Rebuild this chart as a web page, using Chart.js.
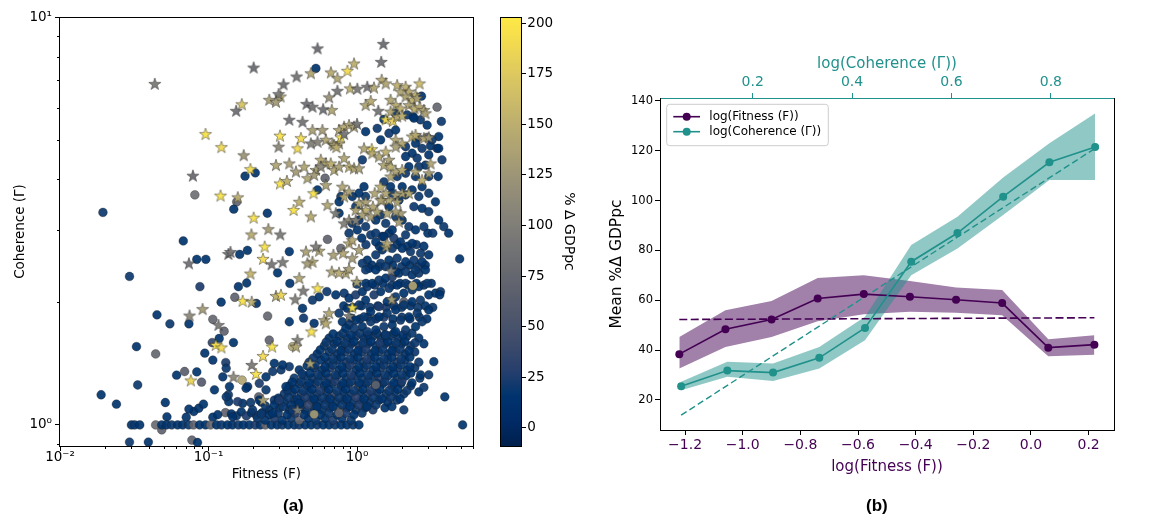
<!DOCTYPE html>
<html><head><meta charset="utf-8">
<script src="https://cdn.jsdelivr.net/npm/chart.js@4.4.1/dist/chart.umd.min.js"></script>
<style>
html,body{margin:0;padding:0;background:#fff;width:1149px;height:514px;overflow:hidden;}
canvas{position:absolute;top:0;}
#c1{left:0} #c2{left:480px} #c3{left:600px}
.lab{position:absolute;font-family:"Liberation Sans",Arial,sans-serif;font-weight:bold;font-size:17px;line-height:17px;color:#000;}
</style></head><body>
<canvas id="c1" width="480" height="514"></canvas>
<canvas id="c2" width="120" height="514"></canvas>
<canvas id="c3" width="549" height="514"></canvas>
<div class="lab" style="left:283px;top:497px">(a)</div>
<div class="lab" style="left:866px;top:497px">(b)</div>
<script>
// ================= DATA: panel (a) =================
// each record: [log10 Fitness (F), log10 Coherence (Γ), % Δ GDPpc]
const starPoints = [
[-1.362,0.836,95],[-0.696,0.876,80],[-0.776,0.786,170],[-0.814,0.770,85],[-1.020,0.713,195],[-0.913,0.681,190],[-0.763,0.661,125],[-0.718,0.627,190],[-1.105,0.611,80],[-0.919,0.562,195],[-0.803,0.558,150],[-0.696,0.508,195],[-0.711,0.467,145],[-0.597,0.480,130],[-0.866,0.419,85],[-0.852,0.424,90],[-0.622,0.437,195],[-0.633,0.407,190],[-1.132,0.396,85],[-0.718,0.371,155],[-0.770,0.304,195],[-0.709,0.302,150],[-1.040,0.284,130],[-1.128,0.268,110],[-0.933,0.245,95],[-0.951,0.196,195],[-0.913,0.190,190],[-0.633,0.169,190],[-1.119,0.109,185],[-0.832,0.118,110],[-0.709,0.147,95],[-0.680,0.125,195],
[-0.266,0.923,80],[0.177,0.934,80],[0.163,0.890,85],[-0.020,0.886,150],[-0.065,0.868,190],[-0.311,0.862,140],[-0.407,0.854,90],[-0.176,0.864,145],[-0.132,0.850,140],[-0.495,0.835,85],[-0.515,0.805,150],[-0.528,0.811,95],[-0.591,0.797,135],[-0.546,0.792,130],[-0.132,0.819,90],[-0.047,0.825,150],[0.002,0.824,95],[0.069,0.829,90],[0.114,0.827,140],[0.166,0.846,145],[0.193,0.837,140],[0.270,0.833,150],[0.327,0.829,150],[0.421,0.837,160],[0.349,0.817,145],[0.394,0.809,150],[0.293,0.817,140],[-0.188,0.803,120],[-0.170,0.772,140],[-0.228,0.774,85],[-0.340,0.787,85],[-0.300,0.780,90],[0.058,0.784,140],[0.092,0.794,145],[0.143,0.770,90],[0.226,0.797,140],[0.260,0.784,145],[0.293,0.776,150],[0.327,0.805,140],[0.371,0.797,150],[0.405,0.801,135],[0.349,0.784,140],[0.387,0.776,150],[0.421,0.779,145],[0.450,0.772,140],[0.461,0.764,135],
[-0.456,0.748,85],[-0.367,0.743,90],[-0.300,0.723,135],[-0.233,0.723,130],[-0.121,0.723,140],[-0.087,0.731,145],[-0.054,0.735,140],[-0.020,0.731,135],[0.000,0.738,90],[0.193,0.749,190],[0.242,0.745,180],[0.226,0.768,140],[0.270,0.756,145],[0.304,0.758,150],
[-0.519,0.709,195],[-0.401,0.678,190],[-0.378,0.703,190],[-0.528,0.682,110],[-0.311,0.690,100],[-0.266,0.694,105],[-0.210,0.699,140],[-0.166,0.690,135],[-0.121,0.690,140],[-0.154,0.686,130],[-0.139,0.681,150],[-0.109,0.705,195],[-0.087,0.713,90],
[0.260,0.699,140],[0.304,0.690,145],[0.260,0.682,135],[0.371,0.707,150],[0.394,0.711,145],[0.450,0.703,140],[0.483,0.705,130],[0.099,0.676,190],[0.047,0.678,140],[0.103,0.666,145],[0.148,0.658,140],[0.193,0.670,150],[0.215,0.650,135],[0.181,0.637,140],[0.226,0.633,150],[0.260,0.621,140],
[-0.546,0.637,140],[-0.456,0.641,135],[-0.411,0.621,130],[-0.356,0.633,140],[-0.277,0.625,135],[-0.244,0.650,145],[-0.210,0.641,140],[-0.177,0.641,150],[-0.244,0.633,110],[-0.154,0.625,140],[-0.121,0.633,135],[-0.087,0.654,140],[-0.054,0.633,150],[-0.020,0.629,140],[0.013,0.629,135],[-0.334,0.605,140],[-0.289,0.613,130],[-0.519,0.592,195],[-0.472,0.598,150],[-0.293,0.568,195],[-0.427,0.527,195],[-0.389,0.547,150],[-0.311,0.511,145],[-0.199,0.539,140],[-0.210,0.588,135],[-0.099,0.584,140],[-0.054,0.572,135],[-0.087,0.560,145],[0.013,0.543,140],[0.058,0.547,135],[-0.009,0.527,140],[0.058,0.527,150],[0.107,0.535,140],[0.036,0.515,135],[0.092,0.511,130],[0.136,0.523,140],[0.170,0.551,145],[-0.143,0.519,100],[-0.054,0.502,110],[-0.087,0.494,100],[-0.009,0.502,105],
[0.226,0.609,140],[0.304,0.625,145],[0.394,0.621,140],[0.438,0.600,150],[0.495,0.641,140],[0.483,0.617,135],[0.304,0.568,140],[0.349,0.568,145],[0.260,0.564,135],[0.270,0.547,140],[0.293,0.519,130],[0.260,0.523,135],[0.215,0.551,140],[0.159,0.584,150],[0.193,0.568,140],[0.119,0.568,140],[0.159,0.551,135],[0.203,0.519,140],[0.282,0.498,135],[0.193,0.437,140],[-0.076,0.372,140],
[-0.575,0.394,90],[-0.501,0.399,95],[-0.344,0.425,135],[-0.300,0.400,140],[-0.334,0.396,130],[-0.255,0.427,140],[-0.159,0.417,135],[-0.094,0.421,140],[-0.054,0.445,145],[-0.032,0.453,140],[0.013,0.429,135],[-0.032,0.409,130],[-0.277,0.437,95],[0.203,0.445,140],[0.230,0.378,100],[-0.389,0.360,140],[-0.362,0.329,95],[-0.266,0.335,195],[-0.416,0.308,100],[-0.546,0.316,150],[-0.512,0.319,185],[-0.170,0.376,140],[-0.121,0.373,145],[-0.054,0.382,135],[-0.002,0.351,140],[-0.188,0.274,140],[-0.221,0.257,135],[-0.210,0.249,145],[-0.032,0.288,195],[-0.054,0.267,100],[0.233,0.308,135],[-0.401,0.208,100],[-0.411,0.192,140],[-0.307,0.229,195],[-0.572,0.192,195],[-0.315,0.151,140],[-0.633,0.061,140],[-0.401,0.037,100],[-0.517,0.467,95]
];
const circlePoints = [
[-1.711,0.521,20],[-0.754,0.610,15],[-0.685,0.618,15],[-1.092,0.564,85],[-0.810,0.547,70],[-0.830,0.529,15],[-0.604,0.519,15],[-1.170,0.451,15],[-1.079,0.406,15],[-1.532,0.364,20],[-1.058,0.339,25],[-0.915,0.301,15],[-1.347,0.270,15],[-1.260,0.248,20],[-1.132,0.248,15],[-1.485,0.192,15],[-1.356,0.174,75],[-1.477,0.098,20],[-1.723,0.074,15],[-1.620,0.051,15],[-1.215,0.122,15],[-1.161,0.131,65],[-1.079,0.130,15],[-1.291,0.055,15],[-1.280,0.020,15],[-1.532,-0.042,20],[-1.405,-0.042,15],[-1.315,-0.012,70],[-1.112,-0.037,70],[-1.074,-0.043,15],[-0.975,0.202,35],[-0.971,0.259,75],[-0.790,0.418,15],[-0.738,0.428,15],[-1.018,0.406,15],[-0.743,0.348,15],[-0.799,0.339,15],[-0.823,0.313,70],[-0.678,0.298,15],[-0.895,0.230,70],[-0.928,0.212,15],[-0.832,0.202,15],[-1.025,0.176,15],[-0.971,0.159,15],[-0.884,0.153,25],[-1.047,0.105,60],[-0.904,0.118,15],[-0.881,0.139,20],[-0.774,0.110,140],[-0.859,0.094,15],[-0.736,0.094,15],[-0.960,0.086,15],[-0.866,0.074,20],[-0.864,0.057,15],[-0.770,0.053,15],[-0.716,0.055,20],[-0.662,0.069,65],[-1.099,0.033,15],[-1.065,0.041,15],[-1.034,0.051,15],[-1.132,0.039,15],[-1.150,0.019,15],[-0.971,0.019,15],[-0.886,0.030,70],
[-0.846,0.027,15],[-0.812,0.022,20],[-0.779,0.032,15],[-0.745,0.022,25],[-0.711,0.030,15],[-0.678,0.024,20],[-0.638,0.030,15],
[-1.519,0,15],[-1.497,0,20],[-1.463,0,15],[-1.356,0,80],[-1.315,0,15],[-1.282,0,15],[-1.248,0,20],[-1.208,0,15],[-1.174,0,15],[-1.134,0,20],[-1.101,0,70],[-1.060,0,15],[-1.020,0,15],[-0.987,0,75],[-0.946,0,15],[-0.913,0,20],[-0.872,0,15],[-0.839,0,15],[-0.799,0,20],[-0.765,0,15],[-0.725,0,15],[-0.685,0,25],[-0.651,0,15],[-0.617,0,70],[-0.577,0,15],[-0.537,0,15],[-0.503,0,20],[-0.463,0,15],[-0.423,0,15],[-0.389,0,20],[-0.349,0,15],[-0.309,0,15],[-0.268,0,20],[-0.228,0,15],[-0.188,0,15],[-0.148,0,20],[-0.107,0,15],[-0.067,0,15],[-0.027,0,20],[0.013,0,15],[0.711,0,15],
[-0.671,0.017,20],[-0.617,0.012,15],[-0.557,0.017,25],[-0.503,0.012,15],[-0.443,0.017,20],[-0.389,0.012,70],[-0.329,0.017,15],[-0.275,0.012,20],[-0.215,0.017,15],[-0.161,0.012,25],[-0.101,0.017,15],[-0.040,0.012,20],
[-0.591,0.037,15],[-0.523,0.042,20],[-0.456,0.037,15],[-0.403,0.042,30],[-0.349,0.037,15],[-0.289,0.042,20],[-0.235,0.037,15],[-0.181,0.042,25],[-0.121,0.037,75],[-0.067,0.042,15],[-0.007,0.037,20],[0.054,0.042,15],[0.107,0.037,25],[0.188,0.042,15],[0.315,0.037,20],
[-0.644,0.056,15],[-0.557,0.061,20],[-0.490,0.056,15],[-0.423,0.061,25],[-0.369,0.056,15],[-0.309,0.061,20],[-0.255,0.056,15],[-0.201,0.061,30],[-0.141,0.056,15],[-0.087,0.061,20],[-0.027,0.056,15],[0.027,0.061,25],[0.087,0.056,15],[0.148,0.061,20],[0.208,0.056,15],[0.268,0.061,20],
[-0.490,0.076,20],[-0.436,0.081,15],[-0.376,0.076,25],[-0.322,0.081,15],[-0.268,0.076,20],[-0.208,0.081,15],[-0.154,0.076,35],[-0.094,0.081,15],[-0.040,0.076,20],[0.020,0.081,15],[0.074,0.076,25],[0.134,0.081,15],[0.195,0.076,20],[0.255,0.081,15],[0.315,0.076,20],[0.416,0.081,15],
[-0.456,0.096,15],[-0.389,0.101,20],[-0.336,0.096,15],[-0.282,0.101,25],[-0.221,0.096,15],[-0.168,0.101,20],[-0.107,0.096,15],[-0.054,0.101,20],[0.007,0.096,65],[0.060,0.101,15],[0.121,0.096,20],[0.174,0.101,15],[0.235,0.096,25],[0.295,0.101,15],[0.362,0.096,20],
[-0.423,0.115,20],[-0.356,0.120,15],[-0.302,0.115,20],[-0.242,0.120,15],[-0.188,0.115,25],[-0.134,0.120,15],[-0.074,0.115,20],[-0.020,0.120,15],[0.034,0.115,20],[0.094,0.120,15],[0.148,0.115,30],[0.208,0.120,15],[0.268,0.115,20],[0.329,0.120,15],[0.423,0.115,20],
[-0.389,0.135,15],[-0.289,0.140,20],[-0.235,0.135,15],[-0.181,0.140,25],[-0.121,0.135,15],[-0.067,0.140,20],[-0.007,0.135,15],[0.047,0.140,20],[0.107,0.135,15],[0.161,0.140,25],[0.221,0.135,15],[0.275,0.140,20],[0.336,0.135,15],[0.389,0.140,20],
[-0.322,0.154,20],[-0.242,0.159,15],[-0.188,0.154,20],[-0.134,0.159,15],[-0.074,0.154,25],[-0.020,0.159,15],[0.040,0.154,20],[0.094,0.159,15],[0.154,0.154,20],[0.208,0.159,15],[0.268,0.154,25],[0.322,0.159,15],[0.416,0.154,20],
[-0.268,0.174,15],[-0.188,0.179,20],[-0.134,0.174,15],[-0.081,0.179,25],[-0.020,0.174,15],[0.034,0.179,20],[0.094,0.174,15],[0.148,0.179,20],[0.208,0.174,15],[0.262,0.179,25],[0.322,0.174,15],[0.389,0.179,20],
[-0.221,0.194,20],[-0.154,0.199,15],[-0.101,0.194,20],[-0.040,0.199,15],[0.013,0.194,25],[0.074,0.199,15],[0.128,0.194,20],[0.188,0.199,15],[0.242,0.194,20],[0.302,0.199,15],[0.362,0.194,20],[0.450,0.199,15],
[-0.188,0.213,15],[-0.121,0.218,20],[-0.067,0.213,15],[-0.007,0.218,25],[0.047,0.213,15],[0.107,0.218,20],[0.161,0.213,15],[0.221,0.218,20],[0.275,0.213,15],[0.336,0.218,20],[0.416,0.213,15],
[-0.644,0.027,20],[-0.590,0.025,15],[-0.530,0.029,20],[-0.470,0.025,15],[-0.416,0.029,25],[-0.356,0.025,15],[-0.302,0.029,20],[-0.248,0.025,15],[-0.188,0.029,20],[-0.134,0.025,15],[-0.074,0.029,25],[-0.020,0.025,15],[0.034,0.029,20],
[-0.617,0.047,20],[-0.557,0.049,15],[-0.497,0.045,20],[-0.443,0.049,15],[-0.383,0.045,20],[-0.329,0.049,35],[-0.269,0.045,15],[-0.215,0.049,20],[-0.161,0.045,15],[-0.101,0.049,20],[-0.047,0.045,15],[0.013,0.049,25],[0.067,0.045,15],[0.128,0.049,20],[0.235,0.045,15],
[-0.530,0.066,15],[-0.463,0.068,20],[-0.403,0.064,15],[-0.349,0.068,25],[-0.289,0.064,15],[-0.235,0.068,20],[-0.181,0.064,15],[-0.121,0.068,20],[-0.067,0.064,15],[-0.007,0.068,30],[0.047,0.064,15],[0.107,0.068,20],[0.168,0.064,15],[0.228,0.068,20],[0.290,0.064,15],
[-0.470,0.086,20],[-0.416,0.088,15],[-0.362,0.084,20],[-0.302,0.088,15],[-0.248,0.084,25],[-0.188,0.088,15],[-0.134,0.084,20],[-0.074,0.088,15],[-0.020,0.084,20],[0.040,0.088,15],[0.094,0.084,25],[0.154,0.088,15],[0.215,0.084,20],[0.275,0.088,15],[0.336,0.084,20],
[-0.436,0.105,15],[-0.376,0.107,20],[-0.322,0.103,15],[-0.262,0.107,20],[-0.208,0.103,15],[-0.148,0.107,25],[-0.094,0.103,15],[-0.040,0.107,20],[0.013,0.103,15],[0.074,0.107,20],[0.128,0.103,15],[0.188,0.107,20],[0.248,0.103,15],[0.302,0.107,25],[0.370,0.103,15],
[-0.370,0.125,20],[-0.316,0.127,15],[-0.262,0.123,20],[-0.208,0.127,15],[-0.148,0.123,20],[-0.094,0.127,15],[-0.040,0.123,25],[0.020,0.127,15],[0.074,0.123,20],[0.134,0.127,15],[0.188,0.123,20],[0.248,0.127,15],[0.302,0.123,20],[0.362,0.127,15],
[-0.336,0.145,15],[-0.282,0.147,20],[-0.215,0.143,15],[-0.161,0.147,20],[-0.101,0.143,15],[-0.047,0.147,25],[0.013,0.143,15],[0.067,0.147,20],[0.128,0.143,15],[0.181,0.147,20],[0.242,0.143,15],[0.296,0.147,20],[0.356,0.143,15],
[-0.296,0.164,20],[-0.215,0.166,15],[-0.161,0.162,20],[-0.107,0.166,15],[-0.047,0.162,20],[0.007,0.166,15],[0.067,0.162,25],[0.121,0.166,15],[0.181,0.162,20],[0.235,0.166,15],[0.296,0.162,20],[0.356,0.166,15],
[-0.248,0.184,15],[-0.168,0.186,20],[-0.107,0.182,15],[-0.054,0.186,20],[0.007,0.182,15],[0.060,0.186,25],[0.121,0.182,15],[0.174,0.186,20],[0.235,0.182,15],[0.290,0.186,20],[0.350,0.182,15],
[-0.208,0.203,20],[-0.134,0.205,15],[-0.081,0.201,20],[-0.020,0.205,15],[0.040,0.201,20],[0.094,0.205,15],[0.154,0.201,25],[0.208,0.205,15],[0.262,0.201,20],[0.322,0.205,15],[0.390,0.201,20],
[-0.161,0.223,15],[-0.094,0.225,20],[-0.040,0.221,15],[0.020,0.225,20],[0.074,0.221,15],[0.134,0.225,20],[0.188,0.221,15],[0.248,0.225,20],[0.310,0.221,15],[0.370,0.225,20],
[-0.040,0.262,20],[0.020,0.260,15],[0.074,0.264,20],[0.128,0.260,15],[0.181,0.264,25],[0.242,0.260,15],[0.302,0.264,20],[0.356,0.260,15],[0.420,0.264,20],[0.470,0.260,15],
[-0.090,0.292,15],[-0.030,0.288,20],[0.030,0.292,15],[0.087,0.288,20],[0.140,0.292,15],[0.195,0.288,25],[0.250,0.292,15],[0.300,0.288,20],[0.360,0.292,15],[0.410,0.288,20],[0.460,0.292,15],[0.510,0.288,20],
[0.000,0.345,20],[0.060,0.347,15],[0.120,0.343,20],[0.175,0.347,15],[0.235,0.343,20],[0.290,0.347,15],[0.345,0.343,25],[0.400,0.347,15],[0.450,0.343,20],[0.500,0.347,15],
[0.100,0.392,15],[0.150,0.388,20],[0.240,0.392,15],[0.300,0.388,20],[0.355,0.392,15],[0.410,0.388,20],[0.460,0.392,15],
[0.060,0.442,20],[0.150,0.438,15],[0.270,0.442,20],[0.340,0.438,15],[0.400,0.442,20],[0.450,0.438,15],
[-0.591,0.208,70],[-0.434,0.192,140],[-0.557,0.151,15],[-0.512,0.135,20],[0.237,0.306,70],[0.315,0.302,65],[0.126,0.098,70],[-0.121,0.029,75],[-0.289,0.026,130],
[-0.938,0.025,15],[-0.881,0.069,20],[-0.837,0.020,15],[-0.804,0.057,25],[-0.747,0.090,15],[-0.703,0.037,20],[-0.658,0.061,15],[-0.613,0.086,20],[-0.568,0.029,15],[-0.523,0.061,25],[-0.479,0.094,15],[-0.434,0.037,20],[-0.389,0.053,15],[-0.456,0.143,20],[-0.501,0.147,15],[-0.568,0.131,20],[-0.613,0.118,15],[-0.658,0.102,25],
[-0.143,0.319,15],[-0.087,0.323,20],[-0.054,0.311,15],[-0.009,0.319,25],[0.036,0.327,15],[0.069,0.339,20],[0.103,0.347,15],[0.148,0.355,20],[0.193,0.360,15],[0.237,0.363,25],[0.282,0.372,15],[0.327,0.376,20],[0.371,0.368,15],[0.416,0.372,20],[0.461,0.380,15],[0.327,0.347,20],[0.270,0.343,15],[0.215,0.335,20],[0.159,0.327,15],[0.114,0.319,25],[0.058,0.306,15],[0.013,0.294,20],[-0.065,0.286,15],[-0.121,0.274,20],[-0.099,0.253,15],[-0.054,0.245,20],[-0.009,0.257,15],[0.047,0.265,20],[0.092,0.278,15],[0.148,0.290,25],[0.203,0.302,15],[0.260,0.314,20],[0.315,0.323,15],[0.371,0.331,20],[0.416,0.339,15],[0.472,0.347,20],[0.528,0.323,15],[0.562,0.327,20],[0.483,0.319,15],[0.427,0.306,20],[0.371,0.302,15],[0.315,0.294,20],[0.260,0.282,15],[0.203,0.274,20],[0.148,0.265,15],[0.092,0.253,20],[0.036,0.241,15],[-0.020,0.237,20],[-0.076,0.237,15],[0.405,0.274,20],[0.349,0.265,15],[0.293,0.257,20],[0.237,0.245,15],[0.181,0.241,20],[0.126,0.233,15],[0.069,0.229,20],[0.483,0.282,15],[0.438,0.253,20],[0.394,0.241,15],[0.327,0.233,20],[0.260,0.229,15],[0.193,0.221,20],
[-0.452,0.347,15],[-0.203,0.327,20],[-0.255,0.314,15],[-0.300,0.306,20],[-0.367,0.286,15],[-0.602,0.267,75],[-0.456,0.253,15],[-0.360,0.262,20],[-0.289,0.249,15],[-0.199,0.455,70],[-0.109,0.433,75],[-0.456,0.425,15],[-0.535,0.373,15],
[0.032,0.458,15],[0.092,0.466,20],[0.126,0.449,15],[0.170,0.462,20],[0.215,0.470,15],[0.248,0.458,25],[0.293,0.449,15],[0.327,0.466,20],[0.371,0.445,15],[0.428,0.421,20],[0.483,0.417,15],[0.360,0.425,20],[0.304,0.433,15],[0.237,0.433,20],[0.170,0.429,15],[0.126,0.417,20],[0.069,0.404,15],[0.036,0.396,20],[0.081,0.384,15],[0.159,0.396,20],[0.215,0.404,15],[0.270,0.409,20],[0.327,0.400,15],[0.383,0.404,20],[0.438,0.400,15],[0.394,0.380,20],[0.260,0.376,15],[0.193,0.388,20],[0.126,0.380,15],[0.058,0.380,20],[0.691,0.407,15],[0.477,0.470,15],[0.376,0.341,140],
[-0.277,0.874,15],[0.434,0.806,15],[0.539,0.779,75],[0.378,0.756,15],[0.427,0.748,20],[0.472,0.735,15],[0.568,0.744,20],[0.058,0.719,15],[0.136,0.727,20],[0.159,0.699,15],[0.215,0.715,20],[0.260,0.723,15],[0.411,0.704,80],[0.472,0.705,70],[0.394,0.690,15],[0.327,0.682,20],[0.371,0.666,15],[0.438,0.678,20],[0.495,0.684,15],[0.539,0.678,20],[0.327,0.658,15],[0.405,0.654,20],[0.483,0.662,15],[0.572,0.650,20],[0.461,0.637,15],[0.416,0.633,20],[0.349,0.633,15],[0.327,0.617,20],[0.394,0.609,15],[0.483,0.609,20],[0.546,0.609,15],[0.181,0.596,20],[0.226,0.584,15],[0.270,0.609,20],[0.304,0.584,15],[0.237,0.568,20],[0.282,0.551,15],[0.327,0.564,20],[0.371,0.576,15],[0.416,0.560,20],[0.438,0.584,15],[0.483,0.568,20],[0.528,0.547,15],[0.383,0.535,20],[0.438,0.531,15],[0.483,0.523,20],[0.215,0.535,15],[0.260,0.511,20],[0.304,0.502,15],[0.193,0.494,20],[0.237,0.478,15],[0.349,0.486,20],[0.394,0.478,15],[0.450,0.486,20],[0.550,0.502,15],[0.584,0.486,20],[0.617,0.470,15],[0.126,0.470,20],[0.181,0.462,15],[0.036,0.650,20],[0.047,0.584,15],[0.058,0.560,20],[0.013,0.568,15],[-0.009,0.535,20],[-0.032,0.560,15],[-0.109,0.560,20],[-0.121,0.547,15],[-0.054,0.470,20],[0.002,0.478,15],[0.058,0.486,20],[0.126,0.502,15],[0.159,0.515,20],[0.013,0.502,15],[-0.032,0.494,20],[-0.121,0.519,15],[-0.215,0.605,70],[-0.266,0.576,15],[0.510,0.470,20],[0.557,0.319,15],[0.450,0.092,20],[0.517,0.155,15],[0.483,0.123,20],[0.428,0.123,15],[0.591,0.069,15],[0.550,0.707,15],[0.505,0.699,20],[0.550,0.678,15],[0.338,0.760,20],[0.383,0.752,15],[0.260,0.764,20],[0.181,0.749,15]
];
const cbarMin = -8.9, cbarMax = 203;
const cbarTicks = [0, 25, 50, 75, 100, 125, 150, 175, 200];
const fitnessMajorTicks = [0.01, 0.1, 1];
const fitnessMinorTicks = [0.02,0.03,0.04,0.05,0.06,0.07,0.08,0.09,0.2,0.3,0.4,0.5,0.6,0.7,0.8,0.9,2,3,4,5,6];
const coherenceMajorTicks = [1, 10];
const coherenceMinorTicks = [0.9,2,3,4,5,6,7,8,9];

// ================= DATA: panel (b) =================
const fitBins  = [-1.22,-1.06,-0.90,-0.74,-0.58,-0.42,-0.26,-0.10,0.06,0.22];
const fitMean  = [38.4,48.4,52.3,60.7,62.5,61.4,60.2,58.9,41.0,42.2];
const fitLow   = [32.6,41.3,45.3,51.6,54.4,55.4,55.0,54.0,37.6,38.2];
const fitHigh  = [45.3,56.0,59.7,69.0,70.1,67.8,65.1,64.1,44.4,46.0];
const fitTrendX = [-1.22, 0.22];
const fitTrendY = [52.3, 53.0];
const cohBins  = [0.056,0.149,0.241,0.334,0.426,0.519,0.612,0.704,0.797,0.889];
const cohMean  = [25.5,31.8,31.0,36.9,48.9,75.5,87.0,101.6,115.4,121.5];
const cohLow   = [23.9,29.3,27.6,32.6,44.0,70.1,80.8,94.2,108.3,108.3];
const cohHigh  = [27.3,35.3,34.6,41.3,53.4,82.2,93.5,109.3,123.0,135.0];
const cohTrendX = [0.056, 0.889];
const cohTrendY = [13.9, 121.0];
const fitTicks = [-1.2,-1.0,-0.8,-0.6,-0.4,-0.2,0.0,0.2];
const cohTicks = [0.2,0.4,0.6,0.8];
const meanTicks = [20,40,60,80,100,120,140];
const legendLabels = ['log(Fitness (F))', 'log(Coherence (Γ))'];

// ================= STYLE =================
const FONT = "'DejaVu Sans', sans-serif";
Chart.defaults.font.family = FONT;
const PURPLE = '#440154', TEAL = '#21918c';
const CIVIDIS = [[0,32,76],[0,42,102],[0,52,110],[39,63,108],[60,74,107],[76,85,107],[91,95,109],[104,106,112],[117,117,117],[131,129,120],[146,140,120],[161,152,118],[176,165,114],[192,177,109],[209,191,102],[225,204,92],[243,219,79],[255,233,69]];
function cividis(t){
  t = Math.max(0, Math.min(1, t));
  const n = CIVIDIS.length - 1, f = t * n, i = Math.min(Math.floor(f), n - 1), u = f - i;
  const a = CIVIDIS[i], b = CIVIDIS[i + 1];
  return [0,1,2].map(k => Math.round(a[k] + (b[k] - a[k]) * u));
}
const norm = v => (v - cbarMin) / (cbarMax - cbarMin);
const rgba = (c, a) => `rgba(${c[0]},${c[1]},${c[2]},${a})`;
const starCache = {};
function starImage(c){
  const key = c.join(',');
  if (starCache[key]) return starCache[key];
  const cv = document.createElement('canvas'); cv.width = cv.height = 16;
  const g = cv.getContext('2d');
  g.beginPath();
  for (let k = 0; k < 10; k++){
    const r = k % 2 ? 2.5 : 6.4, a = -Math.PI / 2 + k * Math.PI / 5;
    const px = 8 + r * Math.cos(a), py = 8.4 + r * Math.sin(a);
    if (k) g.lineTo(px, py); else g.moveTo(px, py);
  }
  g.closePath();
  g.fillStyle = rgba(c, 0.95); g.fill();
  g.lineWidth = 0.6; g.strokeStyle = 'rgba(30,30,30,0.75)'; g.stroke();
  starCache[key] = cv; return cv;
}
const SUP = {'-':'⁻','0':'⁰','1':'¹','2':'²','3':'³'};
const powLabel = v => '10' + String(Math.round(Math.log10(v))).split('').map(ch => SUP[ch]).join('');
const toPt = p => ({x: Math.pow(10, p[0]), y: Math.pow(10, p[1]), v: p[2]});
const fmt1 = v => (v < -1e-9 ? '\u2212' : '') + Math.abs(v).toFixed(1);

// ================= PANEL (a) scatter =================
const frameMinor = {
  id: 'frameMinor',
  afterDraw(chart){
    const {ctx, chartArea: a, scales: {x, y}} = chart;
    ctx.save();
    ctx.strokeStyle = '#000'; ctx.lineWidth = 1;
    ctx.strokeRect(Math.round(a.left) - 0.5, Math.round(a.top) + 0.5, Math.round(a.right - a.left) + 1, Math.round(a.bottom - a.top));
    ctx.beginPath();
    fitnessMinorTicks.forEach(v => { const px = Math.round(x.getPixelForValue(v)) + 0.5; ctx.moveTo(px, a.bottom); ctx.lineTo(px, a.bottom + 3); });
    coherenceMinorTicks.forEach(v => { const py = Math.round(y.getPixelForValue(v)) + 0.5; ctx.moveTo(a.left, py); ctx.lineTo(a.left - 3, py); });
    ctx.stroke();
    ctx.restore();
  }
};
new Chart(document.getElementById('c1'), {
  type: 'scatter',
  data: { datasets: [
    { label: 'stars', order: 0, data: starPoints.map(toPt), pointRadius: 6.4,
      pointStyle: ctx => (ctx.raw ? starImage(cividis(norm(ctx.raw.v))) : 'star') },
    { label: 'circles', order: 1, data: circlePoints.map(toPt), pointRadius: 4.4, pointStyle: 'circle',
      pointBackgroundColor: ctx => (ctx.raw ? rgba(cividis(norm(ctx.raw.v)), 0.92) : '#000'),
      pointBorderColor: 'rgba(20,20,20,0.6)', pointBorderWidth: 0.5 }
  ]},
  options: {
    animation: false, responsive: false, events: [],
    layout: { padding: { left: 0, top: 17, right: 6, bottom: 0 } },
    plugins: { legend: { display: false }, tooltip: { enabled: false } },
    scales: {
      x: { type: 'logarithmic', min: 0.01, max: 6.0,
        afterFit: s => { s.height = 68; },
        afterBuildTicks: s => { s.ticks = fitnessMajorTicks.map(v => ({value: v})); },
        ticks: { autoSkip: false, maxRotation: 0, color: '#000', font: { size: 13.5 }, padding: -2, callback: v => powLabel(v) },
        grid: { drawOnChartArea: false, drawTicks: true, tickLength: 5, color: '#000' },
        border: { display: false },
        title: { display: true, text: 'Fitness (F)', color: '#000', font: { size: 13.5 }, padding: { top: 0, bottom: 31.9 } } },
      y: { type: 'logarithmic', min: 0.888, max: 10,
        afterFit: s => { s.width = 60; },
        afterBuildTicks: s => { s.ticks = coherenceMajorTicks.map(v => ({value: v})); },
        ticks: { autoSkip: false, color: '#000', font: { size: 13.5 }, padding: 3, callback: v => powLabel(v) },
        grid: { drawOnChartArea: false, drawTicks: true, tickLength: 5, color: '#000' },
        border: { display: false },
        title: { display: true, text: 'Coherence (Γ)', color: '#000', font: { size: 13.5 }, padding: { top: 11.9, bottom: 0 } } }
    }
  },
  plugins: [frameMinor]
});

// ================= PANEL (a) colorbar =================
const cbarPlugin = {
  id: 'cbar',
  beforeDraw(chart){
    const {ctx, chartArea: a} = chart;
    const g = ctx.createLinearGradient(0, a.bottom, 0, a.top);
    CIVIDIS.forEach((c, i) => g.addColorStop(i / (CIVIDIS.length - 1), rgba(c, 1)));
    ctx.save(); ctx.fillStyle = g; ctx.fillRect(a.left, a.top, a.right - a.left, a.bottom - a.top); ctx.restore();
  },
  afterDraw(chart){
    const {ctx, chartArea: a} = chart;
    ctx.save(); ctx.strokeStyle = '#000'; ctx.lineWidth = 1;
    ctx.strokeRect(Math.round(a.left) + 0.5, Math.round(a.top) + 0.5, Math.round(a.right - a.left) - 1, Math.round(a.bottom - a.top));
    ctx.restore();
  }
};
new Chart(document.getElementById('c2'), {
  type: 'scatter',
  data: { datasets: [] },
  options: {
    animation: false, responsive: false, events: [],
    layout: { padding: { left: 20, top: 17, right: 0, bottom: 68 } },
    plugins: { legend: { display: false }, tooltip: { enabled: false } },
    scales: {
      x: { display: false },
      y: { position: 'right', min: cbarMin, max: cbarMax,
        afterFit: s => { s.width = 78; },
        afterBuildTicks: s => { s.ticks = cbarTicks.map(v => ({value: v})); },
        ticks: { color: '#000', font: { size: 13.5 }, padding: 1.3 },
        grid: { drawOnChartArea: false, drawTicks: true, tickLength: 4, color: '#000' },
        border: { display: false },
        title: { display: true, text: '% Δ GDPpc', color: '#000', font: { size: 14 }, padding: { top: 23.3, bottom: 0 } } }
    }
  },
  plugins: [cbarPlugin]
});

// ================= PANEL (b) =================
const xy = (xs, ys) => xs.map((x, i) => ({x, y: ys[i]}));
const legendAndSpine = {
  id: 'legendSpine',
  afterDraw(chart){
    const {ctx, chartArea: a} = chart;
    ctx.save();
    ctx.strokeStyle = '#000'; ctx.lineWidth = 1;
    ctx.beginPath(); ctx.moveTo(Math.round(a.right) + 0.5, a.top); ctx.lineTo(Math.round(a.right) + 0.5, a.bottom); ctx.stroke();
    const bx = a.left + 6.7, by = a.top + 6.3, bw = 161.6, bh = 41.4, r = 3;
    ctx.beginPath();
    ctx.moveTo(bx + r, by); ctx.arcTo(bx + bw, by, bx + bw, by + bh, r); ctx.arcTo(bx + bw, by + bh, bx, by + bh, r);
    ctx.arcTo(bx, by + bh, bx, by, r); ctx.arcTo(bx, by, bx + bw, by, r); ctx.closePath();
    ctx.fillStyle = 'rgba(255,255,255,0.8)'; ctx.fill();
    ctx.strokeStyle = '#cccccc'; ctx.lineWidth = 1; ctx.stroke();
    const cols = [PURPLE, TEAL];
    legendLabels.forEach((txt, i) => {
      const yy = by + 12.4 + i * 15;
      ctx.strokeStyle = cols[i]; ctx.lineWidth = 1.6;
      ctx.beginPath(); ctx.moveTo(bx + 6.6, yy); ctx.lineTo(bx + 33.3, yy); ctx.stroke();
      ctx.fillStyle = cols[i]; ctx.beginPath(); ctx.arc(bx + 20, yy, 4, 0, Math.PI * 2); ctx.fill();
      ctx.fillStyle = '#000'; ctx.font = '12px ' + FONT; ctx.textBaseline = 'middle'; ctx.textAlign = 'left';
      ctx.fillText(txt, bx + 42.6, yy);
    });
    ctx.restore();
  }
};
new Chart(document.getElementById('c3'), {
  type: 'scatter',
  data: { datasets: [
    { label: 'fitLow', data: xy(fitBins, fitLow), xAxisID: 'x', showLine: true, borderWidth: 0, pointRadius: 0, fill: false, order: 10 },
    { label: 'fitHigh', data: xy(fitBins, fitHigh), xAxisID: 'x', showLine: true, borderWidth: 0, pointRadius: 0, fill: '-1', backgroundColor: 'rgba(68,1,84,0.5)', order: 9 },
    { label: 'cohLow', data: xy(cohBins, cohLow), xAxisID: 'x2', showLine: true, borderWidth: 0, pointRadius: 0, fill: false, order: 8 },
    { label: 'cohHigh', data: xy(cohBins, cohHigh), xAxisID: 'x2', showLine: true, borderWidth: 0, pointRadius: 0, fill: '-1', backgroundColor: 'rgba(33,145,140,0.5)', order: 7 },
    { label: 'fitTrend', data: xy(fitTrendX, fitTrendY), xAxisID: 'x', showLine: true, borderColor: PURPLE, borderWidth: 1.6, borderDash: [8, 3.4], pointRadius: 0, fill: false, order: 4 },
    { label: 'cohTrend', data: xy(cohTrendX, cohTrendY), xAxisID: 'x2', showLine: true, borderColor: TEAL, borderWidth: 1.4, borderDash: [6.5, 3.4], pointRadius: 0, fill: false, order: 3 },
    { label: legendLabels[0], data: xy(fitBins, fitMean), xAxisID: 'x', showLine: true, borderColor: PURPLE, borderWidth: 1.6, pointRadius: 4, pointBackgroundColor: PURPLE, pointBorderColor: PURPLE, pointBorderWidth: 0, fill: false, order: 2 },
    { label: legendLabels[1], data: xy(cohBins, cohMean), xAxisID: 'x2', showLine: true, borderColor: TEAL, borderWidth: 1.6, pointRadius: 4, pointBackgroundColor: TEAL, pointBorderColor: TEAL, pointBorderWidth: 0, fill: false, order: 1 }
  ]},
  options: {
    animation: false, responsive: false, events: [],
    layout: { padding: { left: 0, top: 0, right: 35, bottom: 0 } },
    plugins: { legend: { display: false }, tooltip: { enabled: false }, filler: { propagate: false } },
    scales: {
      x: { type: 'linear', position: 'bottom', min: -1.287, max: 0.288,
        afterFit: s => { s.height = 84; },
        afterBuildTicks: s => { s.ticks = fitTicks.map(v => ({value: v})); },
        ticks: { color: PURPLE, font: { size: 14 }, padding: 2.3, maxRotation: 0, autoSkip: false, callback: v => fmt1(v) },
        grid: { drawOnChartArea: false, drawTicks: true, tickLength: 5, color: '#000' },
        border: { color: '#000', width: 1 },
        title: { display: true, text: 'log(Fitness (F))', color: PURPLE, font: { size: 15 }, padding: { top: 0, bottom: 38 } } },
      x2: { type: 'linear', position: 'top', min: 0.0135, max: 0.927,
        afterFit: s => { s.height = 98; },
        afterBuildTicks: s => { s.ticks = cohTicks.map(v => ({value: v})); },
        ticks: { color: TEAL, font: { size: 14 }, padding: 2.6, maxRotation: 0, autoSkip: false, callback: v => fmt1(v) },
        grid: { drawOnChartArea: false, drawTicks: true, tickLength: 5, color: TEAL },
        border: { color: TEAL, width: 1 },
        title: { display: true, text: 'log(Coherence (Γ))', color: TEAL, font: { size: 15 }, padding: { top: 55, bottom: 0 } } },
      y: { type: 'linear', min: 7.95, max: 141.2,
        afterFit: s => { s.width = 60; },
        afterBuildTicks: s => { s.ticks = meanTicks.map(v => ({value: v})); },
        ticks: { color: '#000', font: { size: 11.5 }, padding: 2, autoSkip: false },
        grid: { drawOnChartArea: false, drawTicks: true, tickLength: 5, color: '#000' },
        border: { color: '#000', width: 1 },
        title: { display: true, text: 'Mean %Δ GDPpc', color: '#000', font: { size: 15.5 }, padding: { top: 7.7, bottom: 0 } } }
    }
  },
  plugins: [legendAndSpine]
});
</script>
</body></html>
